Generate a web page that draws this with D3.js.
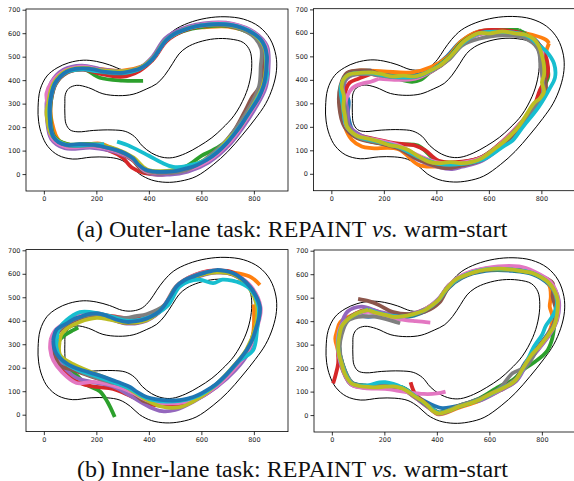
<!DOCTYPE html>
<html>
<head>
<meta charset="utf-8">
<title>Track trajectories</title>
<script src="https://cdn.jsdelivr.net/npm/d3@7"></script>
<style>
  body { margin: 0; background: #fff; }
</style>
</head>
<body>
<div id="fig"></div>
<script>
// track boundaries (same track in every panel)
var outerTrack = [[-22,285],[-14,360],[12,418],[50,452],[95,474],[150,485],[200,480],[250,465],[300,444],[340,442],[375,455],[405,488],[430,530],[458,572],[495,612],[550,643],[620,664],[690,670],[760,660],[820,628],[862,575],[884,505],[886,440],[872,370],[845,300],[805,235],[755,165],[700,95],[645,40],[580,-10],[520,-30],[465,-35],[410,-25],[365,0],[330,35],[290,62],[240,72],[180,72],[110,64],[55,80],[15,118],[-8,168],[-20,225]];
var innerTrack = [[80,300],[82,340],[95,365],[125,378],[170,368],[225,342],[285,334],[340,340],[390,362],[430,385],[460,420],[490,470],[515,512],[545,540],[590,562],[650,576],[710,575],[760,560],[785,525],[792,470],[785,400],[765,330],[725,250],[680,195],[640,155],[590,118],[540,88],[490,70],[450,72],[410,90],[375,120],[345,160],[310,182],[260,188],[190,186],[130,180],[100,188],[84,215],[80,260]];

var xTicks = [0, 200, 400, 600, 800];
var yTicks = [0, 100, 200, 300, 400, 500, 600, 700];
var xDomain = [-68, 930];
var yDomain = [-72, 703];

var tab10 = {blue:"#1f77b4", orange:"#ff7f0e", green:"#2ca02c", red:"#d62728", purple:"#9467bd",
             brown:"#8c564b", pink:"#e377c2", gray:"#7f7f7f", olive:"#bcbd22", cyan:"#17becf"};

// (a) outer lane, REPAINT
var runsA = [
  ["orange", [[25,295],[40,384],[84,440],[150,456],[220,447],[300,440],[372,458],[404,478],[420,500],[466,575],[530,618],[610,625],[700,628],[792,596],[838,540],[842,455],[830,370],[790,285],[740,200],[688,128],[612,58],[538,20],[460,8],[386,14],[334,66],[272,104],[213,130],[130,122],[60,140],[30,225],[25,295]]],
  ["green", [[410,480],[460,565],[525,606],[615,628],[705,630],[795,592],[835,538],[840,455],[826,370],[786,282],[738,196],[690,135],[640,100],[600,78],[545,35],[470,12],[378,17],[332,70],[270,106],[190,128],[90,128],[40,160],[26,230],[26,300],[45,385],[90,435],[150,448],[213,410],[300,398],[378,397]]],
  ["red", [[22,300],[38,385],[82,432],[148,445],[225,425],[300,415],[365,440],[418,490],[468,566],[532,610],[600,630],[705,632],[795,595],[835,538],[838,455],[820,365],[795,325],[770,260],[735,190],[685,120],[612,52],[535,14],[450,-2],[380,5],[335,28],[300,70],[250,100],[180,118],[90,118],[40,150],[22,230],[22,300]]],
  ["purple", [[10,300],[28,390],[75,445],[145,462],[226,445],[305,438],[368,455],[414,500],[462,578],[528,620],[640,645],[720,640],[802,604],[850,545],[856,455],[845,368],[806,282],[756,196],[706,124],[628,50],[548,10],[480,-2],[400,4],[345,55],[278,92],[185,112],[80,110],[28,150],[12,230],[10,300]]],
  ["brown", [[26,305],[46,385],[90,432],[152,446],[228,432],[300,428],[362,446],[414,490],[465,568],[530,612],[620,632],[710,632],[796,596],[838,540],[840,455],[822,372],[795,330],[760,255],[722,180],[670,112],[600,48],[520,12],[429,3],[380,12],[336,62],[276,98],[188,120],[88,120],[38,155],[24,230],[26,305]]],
  ["pink", [[14,300],[10,344],[30,392],[80,440],[150,458],[224,440],[300,436],[366,452],[418,496],[470,574],[534,616],[620,640],[712,640],[800,602],[846,544],[852,458],[840,370],[800,284],[750,198],[700,126],[624,55],[545,18],[442,6],[388,12],[338,64],[275,98],[186,118],[84,116],[32,152],[16,230],[14,300]]],
  ["gray", [[24,300],[44,384],[88,436],[150,452],[226,438],[302,434],[366,452],[416,494],[466,572],[530,614],[620,636],[705,632],[790,594],[828,535],[826,457],[820,375],[786,290],[738,205],[688,134],[615,64],[543,17],[467,6],[392,14],[342,64],[280,100],[190,122],[88,122],[38,158],[24,230],[24,300]]],
  ["olive", [[16,300],[36,385],[82,438],[150,452],[213,443],[300,438],[364,452],[415,494],[466,572],[530,614],[620,634],[708,634],[796,598],[840,540],[846,456],[832,370],[792,284],[744,198],[695,140],[645,80],[560,36],[470,14],[393,20],[342,70],[278,106],[188,126],[86,126],[30,165],[12,240],[10,265],[16,300]]],
  ["cyan", [[279,138],[330,118],[400,78],[450,48],[493,31],[543,34],[620,62],[696,133],[747,204],[797,289],[836,372],[850,420],[848,457],[842,542],[797,600],[709,636],[620,636],[531,613],[467,572],[417,494],[366,448],[315,432],[260,432],[190,440],[150,446],[86,434],[42,386],[23,301],[23,230],[36,159],[86,124],[188,126],[230,128]]],
  ["blue", [[23,301],[30,345],[42,386],[62,415],[86,436],[118,448],[150,450],[190,446],[226,436],[265,432],[302,432],[336,440],[366,450],[393,468],[417,493],[440,530],[467,571],[497,597],[531,613],[575,628],[620,635],[665,638],[709,635],[755,622],[797,599],[825,575],[842,542],[850,500],[848,457],[844,414],[836,372],[820,328],[797,287],[772,245],[747,202],[722,165],[696,131],[660,92],[620,60],[582,38],[543,24],[505,14],[467,10],[428,10],[391,17],[362,38],[340,67],[310,88],[277,102],[232,115],[188,124],[136,127],[86,124],[55,136],[36,159],[26,195],[23,230],[22,265],[23,301]]]
];

// (a) outer lane, warm-start
var runsB = [
  ["blue", [[150,440],[70,428],[48,370],[66,310],[64,250],[90,168],[180,132],[256,112],[335,70],[410,40],[498,40],[578,60],[655,125],[718,196],[782,282],[815,340],[808,457],[795,545],[742,598],[650,612],[562,606],[492,562],[440,500],[380,448],[318,420],[230,420],[150,440]]],
  ["orange", [[829,556],[818,520],[808,457],[815,350],[780,285],[716,198],[650,125],[574,58],[498,36],[396,31],[332,38],[256,105],[154,109],[116,116],[78,145],[52,200],[40,287],[42,372],[62,428],[110,440],[200,436],[307,432],[380,455],[445,500],[495,565],[560,606],[650,612],[765,592],[818,570],[829,556]]],
  ["green", [[714,613],[651,612],[562,600],[498,560],[447,496],[383,440],[340,400],[307,392],[230,412],[154,428],[68,418],[42,372],[50,287],[62,205],[108,156],[180,130],[240,124],[330,120],[409,50],[498,50],[574,72],[651,136],[714,206],[775,292],[800,350],[826,415],[822,457],[795,540],[745,590],[714,613]]],
  ["red", [[150,425],[103,405],[70,388],[52,340],[55,287],[66,205],[108,165],[180,145],[256,128],[320,120],[358,100],[409,55],[498,52],[574,72],[651,137],[714,208],[770,285],[795,358],[822,415],[825,457],[800,540],[750,580],[720,600],[612,613],[562,604],[498,556],[447,490],[383,438],[320,410],[230,410],[150,425]]],
  ["purple", [[154,425],[70,415],[45,372],[62,272],[68,205],[110,165],[180,140],[256,110],[330,60],[409,28],[460,20],[498,30],[574,55],[655,122],[718,195],[784,282],[812,344],[806,457],[792,540],[740,590],[651,604],[562,596],[496,552],[446,488],[382,438],[318,410],[228,410],[154,425]]],
  ["brown", [[154,438],[60,430],[34,372],[30,287],[50,200],[98,152],[180,130],[256,108],[330,62],[434,24],[498,36],[574,60],[652,124],[718,196],[760,262],[784,290],[815,344],[808,457],[796,540],[742,588],[680,592],[651,598],[562,594],[498,552],[447,486],[383,436],[320,408],[230,408],[154,438]]],
  ["pink", [[180,405],[150,392],[120,385],[80,365],[55,310],[56,205],[100,162],[180,142],[256,120],[332,78],[409,48],[498,48],[574,70],[650,134],[712,205],[776,290],[806,344],[800,457],[803,528],[788,545],[738,588],[651,600],[562,594],[498,550],[447,488],[383,438],[320,405],[240,400],[180,405]]],
  ["gray", [[154,425],[66,415],[42,370],[52,287],[64,202],[106,154],[180,134],[256,112],[332,72],[409,42],[498,42],[574,64],[650,128],[712,200],[775,284],[806,344],[798,457],[785,535],[735,578],[651,590],[562,575],[500,548],[450,490],[383,440],[320,412],[230,412],[154,425]]],
  ["cyan", [[154,430],[62,420],[36,372],[44,287],[58,202],[102,158],[180,136],[256,114],[332,72],[409,42],[498,42],[580,62],[660,120],[689,140],[730,200],[790,285],[830,360],[852,410],[848,470],[820,520],[790,548],[740,590],[651,604],[562,598],[498,554],[447,492],[383,442],[320,414],[230,414],[154,430]]],
  ["olive", [[154,432],[110,430],[65,422],[45,400],[39,372],[48,330],[46,287],[52,245],[59,202],[80,175],[103,159],[140,150],[180,138],[220,122],[256,116],[295,100],[332,74],[370,52],[409,45],[455,50],[498,45],[540,52],[574,67],[615,100],[651,131],[680,160],[714,202],[745,255],[772,301],[795,322],[810,350],[802,390],[810,420],[810,460],[803,500],[791,542],[770,575],[740,592],[700,598],[651,606],[605,598],[562,599],[525,580],[498,556],[470,520],[447,493],[415,462],[383,443],[350,425],[320,415],[275,418],[230,415],[190,425],[154,432]]]
];

// (b) inner lane, REPAINT
var runsC = [
  ["orange", [[800,470],[797,345],[775,270],[725,200],[660,125],[569,68],[467,55],[391,70],[328,112],[264,140],[188,168],[112,196],[50,255],[38,317],[45,345],[88,392],[137,420],[201,428],[251,414],[315,392],[391,405],[455,455],[505,540],[569,590],[658,612],[740,602],[790,585],[823,552]]],
  ["green", [[131,371],[112,360],[82,340],[50,305],[46,262],[75,212],[125,168],[163,128],[213,100],[242,55],[270,-10]]],
  ["red", [[30,320],[32,280],[60,220],[100,160],[150,130],[200,118],[264,110],[330,80],[400,45],[467,40],[569,60],[658,120],[721,190],[772,262],[800,350],[815,430],[805,500],[780,548],[721,605],[658,614],[600,605],[520,560],[470,480],[410,420],[330,410],[260,420],[200,428],[137,420],[86,392],[45,350],[30,320]]],
  ["purple", [[40,320],[34,270],[70,210],[120,160],[180,140],[264,120],[330,80],[404,32],[450,15],[500,20],[569,55],[658,118],[730,190],[780,265],[806,360],[818,440],[796,530],[740,590],[658,605],[569,580],[505,535],[455,452],[391,400],[315,388],[251,408],[201,422],[137,410],[86,380],[50,345],[40,320]]],
  ["brown", [[42,320],[42,260],[60,210],[112,190],[188,160],[264,132],[330,100],[380,58],[420,48],[467,50],[569,70],[658,126],[721,198],[772,270],[806,372],[815,460],[785,540],[721,596],[658,608],[569,582],[505,540],[455,455],[391,404],[315,390],[251,410],[201,425],[137,412],[86,382],[50,345],[42,320]]],
  ["pink", [[26,320],[24,280],[36,231],[70,180],[124,135],[188,140],[264,125],[328,100],[391,62],[467,48],[569,62],[658,122],[725,195],[776,268],[812,370],[826,455],[790,545],[725,598],[658,612],[569,592],[505,548],[455,462],[391,412],[315,398],[251,418],[201,432],[137,420],[86,395],[40,355],[26,320]]],
  ["gray", [[44,320],[50,265],[100,208],[180,165],[250,140],[300,125],[350,95],[391,72],[467,58],[569,72],[658,130],[721,200],[772,272],[810,372],[822,460],[785,545],[721,600],[658,612],[569,590],[505,548],[458,465],[391,428],[350,420],[315,412],[251,418],[201,428],[137,415],[86,388],[50,350],[44,320]]],
  ["olive", [[60,310],[62,255],[112,215],[188,178],[251,150],[310,120],[380,70],[442,36],[518,32],[590,70],[660,132],[721,205],[772,278],[805,372],[812,455],[782,540],[721,598],[658,606],[569,584],[505,542],[455,458],[391,402],[315,392],[251,405],[201,412],[137,395],[86,365],[66,340],[60,310]]],
  ["cyan", [[50,320],[48,288],[70,230],[120,195],[188,168],[264,138],[328,110],[391,70],[467,56],[569,72],[658,130],[747,231],[797,274],[812,360],[818,459],[790,530],[745,562],[721,570],[680,575],[645,560],[590,575],[520,548],[470,462],[400,415],[315,400],[251,420],[180,437],[137,437],[86,402],[55,360],[50,320]]],
  ["blue", [[36,317],[38,332],[48,362],[86,388],[110,405],[137,416],[170,428],[201,431],[230,425],[251,416],[285,402],[315,395],[352,398],[391,409],[425,428],[455,459],[480,500],[505,545],[535,572],[569,588],[615,605],[658,616],[690,612],[721,602],[755,578],[785,545],[808,505],[823,459],[820,415],[810,374],[795,322],[772,274],[748,238],[721,203],[690,165],[658,132],[615,100],[569,75],[518,62],[467,61],[425,66],[391,75],[358,95],[328,118],[296,133],[264,146],[225,162],[188,175],[150,188],[112,203],[75,228],[48,260],[38,290],[36,317]]]
];

// (b) inner lane, warm-start
var runsD = [
  ["blue", [[37,377],[80,425],[139,418],[190,424],[267,415],[356,442],[407,486],[445,542],[496,585],[586,614],[688,614],[764,600],[826,556],[855,491],[850,405],[824,348],[786,292],[736,222],[698,152],[636,110],[560,68],[484,40],[420,30],[390,40],[318,82],[267,118],[203,126],[126,126],[75,140],[40,220],[28,292],[37,377]]],
  ["orange", [[139,452],[75,424],[32,395],[20,360],[13,325],[22,280],[32,220],[72,132],[126,118],[203,118],[267,110],[318,74],[369,32],[407,3],[484,32],[560,60],[637,103],[700,145],[739,216],[790,288],[826,345],[840,420],[830,462],[834,505],[826,558],[764,610],[688,624],[586,624],[496,594],[445,552],[407,494],[356,452],[267,424],[203,431],[139,452]]],
  ["green", [[139,446],[203,424],[267,418],[356,446],[407,490],[445,546],[496,588],[586,617],[688,617],[764,603],[828,560],[858,491],[850,405],[838,320],[818,270],[775,228],[735,198],[690,150],[637,121],[560,70],[484,40],[407,12],[369,40],[318,82],[267,118],[203,125],[126,125],[75,138],[40,220],[28,292],[40,377],[78,420],[139,446]]],
  ["red", [[300,140],[318,90],[369,40],[407,10],[484,38],[560,66],[637,110],[700,152],[739,222],[790,295],[828,350],[852,405],[858,491],[828,565],[764,608],[688,622],[610,625],[586,621],[496,592],[445,550],[407,493],[356,450],[267,422],[203,430],[139,450],[75,422],[37,377],[24,292],[24,220],[14,170],[5,135]]],
  ["purple", [[24,292],[34,377],[60,441],[114,462],[180,440],[267,426],[356,452],[407,496],[445,552],[496,594],[586,624],[688,624],[764,609],[830,566],[864,491],[858,405],[832,346],[794,290],[743,218],[704,147],[640,104],[560,60],[535,57],[509,45],[484,36],[407,5],[369,32],[318,74],[267,110],[203,117],[126,117],[72,131],[33,220],[24,292]]],
  ["brown", [[100,495],[140,485],[177,470],[230,440],[300,430],[356,441],[410,480],[445,545],[496,588],[586,618],[688,620],[764,606],[841,562],[841,505],[854,440],[830,350],[790,292],[739,220],[700,149],[637,107],[560,64],[484,36],[407,8],[369,36],[318,78],[267,114],[203,121],[126,121],[75,135],[37,220],[24,292],[37,377],[75,420],[139,448]]],
  ["pink", [[375,394],[320,400],[260,408],[203,420],[139,440],[75,418],[34,377],[22,292],[35,220],[75,130],[126,115],[203,112],[279,99],[350,90],[400,92],[433,100]]],
  ["pink", [[356,450],[407,494],[445,552],[496,596],[586,626],[713,633],[770,612],[834,566],[862,491],[856,405],[830,348],[792,292],[740,220],[702,152],[640,108],[560,64]]],
  ["gray", [[260,391],[203,410],[152,420],[100,418],[60,400],[37,340],[30,292],[40,220],[78,138],[126,124],[203,124],[267,116],[318,80],[369,38],[407,10],[484,40],[560,68],[637,112],[688,178],[739,206],[788,290],[826,346],[852,405],[856,491],[826,560],[764,604],[688,618],[586,618],[496,588],[445,546],[407,490],[356,446],[300,425]]],
  ["cyan", [[139,450],[203,428],[267,420],[356,448],[407,491],[445,548],[496,590],[586,620],[688,620],[764,605],[828,560],[858,491],[845,430],[815,380],[800,340],[772,295],[739,222],[700,150],[637,108],[560,64],[484,36],[407,10],[369,38],[318,80],[267,118],[203,140],[177,138],[126,125],[75,136],[37,220],[24,292],[37,377],[75,420],[139,450]]],
  ["olive", [[139,448],[170,435],[203,427],[235,418],[267,420],[310,430],[356,448],[385,470],[407,491],[425,520],[445,548],[470,575],[496,590],[540,608],[586,619],[640,624],[688,619],[730,612],[764,605],[800,585],[828,562],[848,530],[860,491],[860,450],[854,405],[845,375],[828,348],[810,320],[790,292],[760,255],[739,220],[718,180],[700,149],[670,125],[637,107],[600,88],[560,64],[520,48],[484,36],[445,18],[407,7],[385,18],[369,36],[345,60],[318,78],[290,100],[267,114],[235,122],[203,121],[165,118],[126,121],[100,125],[75,135],[50,175],[37,220],[28,255],[24,292],[28,335],[37,377],[55,402],[75,420],[105,438],[139,448]]]
];

var captions = [
  {pre: "(a) Outer-lane task: REPAINT ", post: " warm-start", x: 76.5, y: 237},
  {pre: "(b) Inner-lane task: REPAINT ", post: " warm-start", x: 77, y: 476.5}
];

// layout
var W = 262, H = 182;
var panels = [
  {left: 26,    top: 9,     runs: runsA},
  {left: 313.5, top: 8.7,   runs: runsB},
  {left: 26,    top: 249.6, runs: runsC},
  {left: 314,   top: 250,   runs: runsD}
];

var svg = d3.select("#fig").append("svg")
  .attr("width", 574)
  .attr("height", 481);

var x = d3.scaleLinear().domain(xDomain).range([0, W]);
var y = d3.scaleLinear().domain(yDomain).range([H, 0]);

var trackLine = d3.line()
  .x(function(d){ return x(d[0]); })
  .y(function(d){ return y(d[1]); })
  .curve(d3.curveCatmullRomClosed.alpha(0.5));

var runLine = d3.line()
  .x(function(d){ return x(d[0]); })
  .y(function(d){ return y(d[1]); })
  .curve(d3.curveCatmullRom.alpha(0.5));

panels.forEach(function(p, i){
  var g = svg.append("g").attr("transform", "translate(" + p.left + "," + p.top + ")");

  g.append("clipPath").attr("id", "clip" + i)
    .append("rect").attr("width", W).attr("height", H);

  var plot = g.append("g").attr("clip-path", "url(#clip" + i + ")");

  // track
  [outerTrack, innerTrack].forEach(function(t){
    plot.append("path")
      .attr("d", trackLine(t))
      .attr("fill", "none")
      .attr("stroke", "#000")
      .attr("stroke-width", 1);
  });

  // trajectories
  plot.selectAll(".run")
    .data(p.runs)
    .enter().append("path")
    .attr("class", "run")
    .attr("d", function(d){ return runLine(d[1]); })
    .attr("fill", "none")
    .attr("stroke", function(d){ return tab10[d[0]]; })
    .attr("stroke-width", 3.8)
    .attr("stroke-linejoin", "round")
    .attr("stroke-linecap", "butt");

  // axes
  var xAxis = d3.axisBottom(x).tickValues(xTicks).tickSize(3.5).tickSizeOuter(0).tickPadding(2);
  var yAxis = d3.axisLeft(y).tickValues(yTicks).tickSize(3.5).tickSizeOuter(0).tickPadding(2);

  var gx = g.append("g").attr("transform", "translate(0," + H + ")").call(xAxis);
  var gy = g.append("g").call(yAxis);
  [gx, gy].forEach(function(a){
    a.select(".domain").remove();
    a.selectAll("line").attr("stroke", "#000").attr("stroke-width", 0.8);
    a.selectAll("text")
      .attr("fill", "#222")
      .style("font-family", "DejaVu Sans, sans-serif")
      .style("font-size", "6.5px");
  });

  // frame
  g.append("rect")
    .attr("width", W).attr("height", H)
    .attr("fill", "none")
    .attr("stroke", "#000")
    .attr("stroke-width", 0.8);
});

// captions, sized to the width they take in the figure
captions.forEach(function(c){
  var t = svg.append("text")
    .attr("x", c.x).attr("y", c.y)
    .style("font-family", "Liberation Serif, Times New Roman, serif")
    .style("font-size", "24px")
    .attr("fill", "#111");
  t.append("tspan").text(c.pre);
  t.append("tspan").style("font-style", "italic").text("vs.");
  t.append("tspan").text(c.post);
  var len = t.node().getComputedTextLength();
  t.style("font-size", (24 * 431 / len).toFixed(2) + "px");
});
</script>
</body>
</html>
